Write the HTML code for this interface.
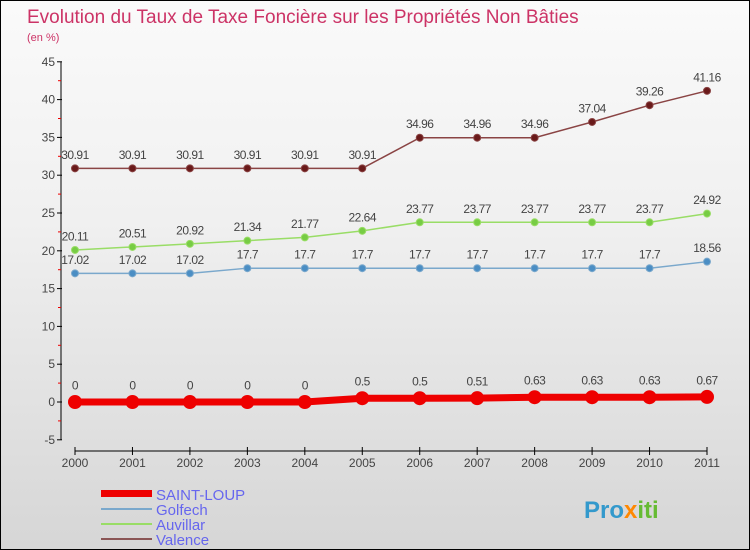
<!DOCTYPE html>
<html><head><meta charset="utf-8"><style>
body{margin:0}
#wrap{position:relative;width:748px;height:548px;border:1px solid #000;background:linear-gradient(#fafafa,#f0f0f0 40%,#d6d6d6);font-family:"Liberation Sans",sans-serif;overflow:hidden}
</style></head><body>
<div id="wrap">
<svg id="svg" width="748" height="548" style="position:absolute;left:0;top:0">
<text x="26" y="22" font-size="19" fill="#cc3366">Evolution du Taux de Taxe Foncière sur les Propriétés Non Bâties</text>
<text x="26" y="40" font-size="11" fill="#cc3366">(en %)</text>
<g id="plot"></g>
<g>
<rect x="100" y="489" width="51" height="7" fill="#ee0000"/>
<text x="155" y="499" font-size="15" fill="#6666ee">SAINT-LOUP</text>
<rect x="100" y="507" width="51" height="2" fill="#7aa8cc"/>
<text x="155" y="514" font-size="15" fill="#6666ee">Golfech</text>
<rect x="100" y="522" width="51" height="2" fill="#99dd66"/>
<text x="155" y="529" font-size="15" fill="#6666ee">Auvillar</text>
<rect x="100" y="537" width="51" height="2" fill="#8a5555"/>
<text x="155" y="544" font-size="15" fill="#6666ee">Valence</text>
</g>
<text x="583" y="517" font-size="24" font-weight="bold" fill="#3399cc">Pro<tspan fill="#ff8800">x</tspan><tspan fill="#66bb33">iti</tspan></text>
</svg>
</div>
<script>
const years=[2000,2001,2002,2003,2004,2005,2006,2007,2008,2009,2010,2011];
const saintLoup=[0,0,0,0,0,0.5,0.5,0.51,0.63,0.63,0.63,0.67];
const golfech=[17.02,17.02,17.02,17.7,17.7,17.7,17.7,17.7,17.7,17.7,17.7,18.56];
const auvillar=[20.11,20.51,20.92,21.34,21.77,22.64,23.77,23.77,23.77,23.77,23.77,24.92];
const valence=[30.91,30.91,30.91,30.91,30.91,30.91,34.96,34.96,34.96,37.04,39.26,41.16];
const yTicks=[-5,0,5,10,15,20,25,30,35,40,45];
const NS="http://www.w3.org/2000/svg";
const g=document.getElementById('plot');
const X=i=>74+i*(632/11);
const Y=v=>401-v*7.56;
function mk(t,a){const e=document.createElementNS(NS,t);for(const k in a)e.setAttribute(k,a[k]);g.appendChild(e);return e;}
let ax=mk('line',{x1:60,y1:Y(45),x2:60,y2:Y(-5),stroke:'#000'});

yTicks.forEach(v=>{mk('line',{x1:56,y1:Y(v),x2:61,y2:Y(v),stroke:'#000'});
 const t=mk('text',{x:54,y:Y(v)+4,'font-size':12,fill:'#444','text-anchor':'end'});t.textContent=v;
 
 if(v<45)mk('line',{x1:57,y1:Y(v+2.5),x2:60,y2:Y(v+2.5),stroke:'#e00'});});
let xa=mk('line',{x1:X(0),y1:450,x2:X(11),y2:450,stroke:'#000'});

years.forEach((y,i)=>{mk('line',{x1:X(i),y1:446,x2:X(i),y2:454,stroke:'#000'});
 const t=mk('text',{x:X(i),y:466,'font-size':12,fill:'#444','text-anchor':'middle'});t.textContent=y;
 });
function series(vals,name,col,dot,w,r){
 const p=mk('polyline',{points:vals.map((v,i)=>X(i)+','+Y(v)).join(' '),fill:'none',stroke:col,'stroke-width':w});
 
 vals.forEach((v,i)=>{const c=mk('circle',{cx:X(i),cy:Y(v),r:r,fill:dot,stroke:col});
  
  const t=mk('text',{x:X(i),y:Y(v)-(r+6),'font-size':12,fill:'#444','text-anchor':'middle','letter-spacing':'-0.5'});
  t.textContent=String(v).replace('.','.');
  });
}
series(valence,'valence','#8a4444','#6a1a1a',1.5,3.5);
series(auvillar,'auvillar','#99dd66','#77cc44',1.5,3.5);
series(golfech,'golfech','#7aa8cc','#4b8ec4',1.5,3.5);
series(saintLoup,'saint-loup','#ee0000','#ee0000',7,6.5);
</script>
</body></html>
